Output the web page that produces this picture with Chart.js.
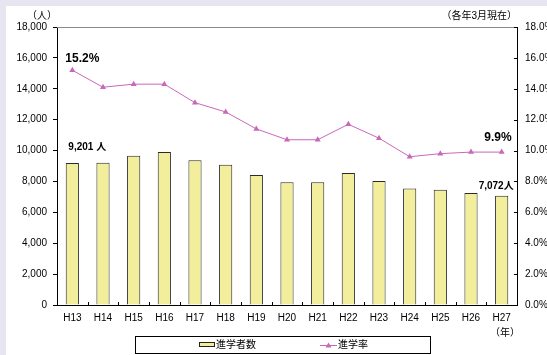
<!DOCTYPE html>
<html>
<head>
<meta charset="utf-8">
<script src="https://cdn.jsdelivr.net/npm/chart.js@4"></script>
<style>
  html, body { margin: 0; padding: 0; background: #e7e5f0; width: 547px; height: 355px; overflow: hidden; }
  #panel { position: absolute; left: 6px; top: 6px; width: 541px; height: 349px; background: #fff; }
</style>
</head>
<body>
<div id="panel"><canvas id="myChart" width="541" height="349"></canvas></div>
<script>
let years = ['H13', 'H14', 'H15', 'H16', 'H17', 'H18', 'H19', 'H20', 'H21', 'H22', 'H23', 'H24', 'H25', 'H26', 'H27'];
let students = [9201, 9215, 9660, 9900, 9370, 9080, 8410, 7940, 7950, 8540, 8030, 7550, 7460, 7250, 7072];
let rates = [15.2, 14.1, 14.3, 14.3, 13.1, 12.5, 11.4, 10.7, 10.7, 11.7, 10.8, 9.6, 9.8, 9.9, 9.9];

let barFill = '#f3ee9c';
let lineColor = '#c968b8';
let jpFont = "'Liberation Sans', 'Noto Sans CJK JP', sans-serif";

Chart.defaults.font.family = jpFont;
Chart.defaults.font.size = 10;
Chart.defaults.color = '#000';

// extra drawing: box top, small tick marks, titles, value labels, legend
let decorations = {
    id: 'decorations',
    afterDraw: (chart) => {
        let ctx = chart.ctx;
        let a = chart.chartArea;
        let x = chart.scales.x, y = chart.scales.y, y2 = chart.scales.y2;
        ctx.save();
        ctx.lineWidth = 1;

        // grey top edge of the plot box
        ctx.strokeStyle = '#8a8a8a';
        ctx.beginPath();
        ctx.moveTo(a.left, Math.round(a.top) + 0.5);
        ctx.lineTo(a.right, Math.round(a.top) + 0.5);
        ctx.stroke();

        // category separators on the x axis, pointing up
        ctx.strokeStyle = '#000';
        ctx.beginPath();
        for (let i = 1; i < years.length; i++) {
            let px = Math.round((x.getPixelForValue(i - 1) + x.getPixelForValue(i)) / 2) + 0.5;
            ctx.moveTo(px, a.bottom);
            ctx.lineTo(px, a.bottom - 3);
        }
        // right axis ticks, pointing in
        for (let v = 0; v <= 18; v += 2) {
            let py = Math.round(y2.getPixelForValue(v)) + 0.5;
            ctx.moveTo(a.right, py);
            ctx.lineTo(a.right - 3, py);
        }
        ctx.stroke();

        // unit captions
        ctx.fillStyle = '#000';
        ctx.font = '10px ' + jpFont;
        ctx.textBaseline = 'middle';
        ctx.textAlign = 'left';
        ctx.fillText('（人）', 21, 10);
        ctx.textAlign = 'right';
        ctx.fillText('（各年3月現在）', 511, 10);
        ctx.fillText('（年）', 514, 327);

        // value labels at the first and last year
        let last = years.length - 1;
        ctx.font = 'bold 12px ' + jpFont;
        ctx.textAlign = 'left';
        ctx.fillText(rates[0].toFixed(1) + '%', x.getPixelForValue(0) - 7, y2.getPixelForValue(rates[0]) - 12);
        ctx.textAlign = 'right';
        ctx.fillText(rates[last].toFixed(1) + '%', x.getPixelForValue(last) + 10, y2.getPixelForValue(rates[last]) - 14);
        ctx.font = 'bold 10px ' + jpFont;
        ctx.textAlign = 'left';
        ctx.fillText(students[0].toLocaleString('en-US') + ' 人', x.getPixelForValue(0) - 4, y.getPixelForValue(students[0]) - 16);
        ctx.textAlign = 'right';
        ctx.fillText(students[last].toLocaleString('en-US') + '人', x.getPixelForValue(last) + 12, y.getPixelForValue(students[last]) - 10);

        // legend box
        ctx.strokeStyle = '#000';
        ctx.strokeRect(129.5, 330.5, 295, 17);
        ctx.fillStyle = barFill;
        ctx.fillRect(193, 336, 16, 5);
        ctx.strokeStyle = '#222';
        ctx.strokeRect(193.5, 336.5, 15, 4);
        ctx.strokeStyle = lineColor;
        ctx.beginPath();
        ctx.moveTo(314, 339.5);
        ctx.lineTo(331, 339.5);
        ctx.stroke();
        ctx.fillStyle = lineColor;
        ctx.beginPath();
        ctx.moveTo(322.5, 336.5);
        ctx.lineTo(325.5, 341.5);
        ctx.lineTo(319.5, 341.5);
        ctx.closePath();
        ctx.fill();
        ctx.fillStyle = '#000';
        ctx.font = '10px ' + jpFont;
        ctx.textAlign = 'left';
        ctx.fillText('進学者数', 210, 339.5);
        ctx.fillText('進学率', 332, 339.5);
        ctx.restore();
    }
};

let ctx = document.getElementById('myChart');

let myChart = new Chart(ctx, {
    data: {
        labels: years,
        datasets: [{
            type: 'line',
            label: '進学率',
            data: rates,
            yAxisID: 'y2',
            order: 0,
            borderColor: lineColor,
            backgroundColor: lineColor,
            borderWidth: 1,
            pointStyle: 'triangle',
            pointRadius: 3.5,
            pointBorderWidth: 0,
            tension: 0
        }, {
            type: 'bar',
            label: '進学者数',
            data: students,
            yAxisID: 'y',
            order: 1,
            backgroundColor: barFill,
            borderColor: '#2a2a2a',
            borderWidth: 1,
            categoryPercentage: 1,
            barPercentage: 0.43
        }]
    },
    options: {
        responsive: false,
        animation: false,
        devicePixelRatio: 1,
        layout: {
            padding: { top: 21, left: 0, right: 0, bottom: 0 }
        },
        plugins: {
            legend: { display: false },
            tooltip: { enabled: false }
        },
        scales: {
            x: {
                grid: { display: false, drawTicks: false },
                border: { display: true, color: '#000', width: 1 },
                ticks: { padding: 7, font: { size: 10 } },
                afterFit: (scale) => { scale.height = 50; }
            },
            y: {
                position: 'left',
                min: 0,
                max: 18000,
                grid: { drawOnChartArea: false, drawTicks: true, tickLength: 4, color: '#000' },
                border: { display: true, color: '#000', width: 1 },
                ticks: {
                    stepSize: 2000,
                    padding: 6,
                    callback: (value) => value.toLocaleString('en-US')
                },
                afterFit: (scale) => { scale.width = 51; }
            },
            y2: {
                position: 'right',
                min: 0,
                max: 18,
                grid: { drawOnChartArea: false, drawTicks: false },
                border: { display: true, color: '#000', width: 1 },
                ticks: {
                    stepSize: 2,
                    padding: 8,
                    callback: (value) => value.toFixed(1) + '%'
                },
                afterFit: (scale) => { scale.width = 30; }
            }
        }
    },
    plugins: [decorations]
});
</script>
</body>
</html>
